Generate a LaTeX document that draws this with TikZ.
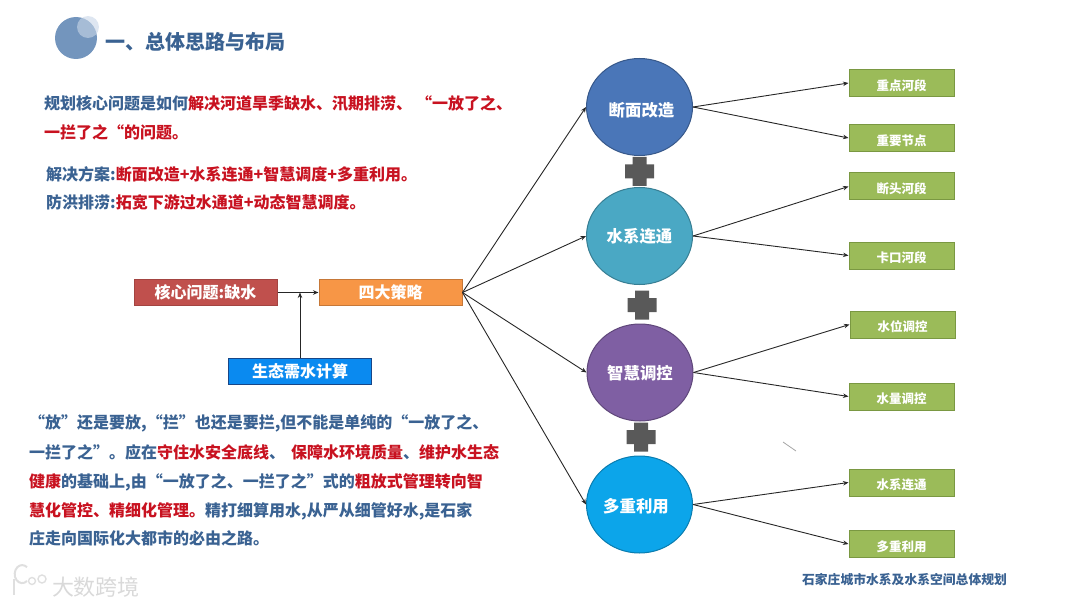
\documentclass[tikz,border=0pt]{standalone}
\usepackage{fontspec}
\setmainfont{Noto Sans CJK SC}
\usepackage{xcolor}
\usetikzlibrary{shapes.geometric,arrows.meta,positioning}
\definecolor{planBlue}{RGB}{58,98,146}
\definecolor{alertRed}{RGB}{200,18,32}
\definecolor{leafGreen}{RGB}{155,187,89}
\definecolor{leafEdge}{RGB}{122,152,66}
\definecolor{plusGrey}{RGB}{89,89,89}
\definecolor{hubBlue}{RGB}{74,118,184}
\definecolor{hubTeal}{RGB}{74,168,196}
\definecolor{hubPurple}{RGB}{127,95,163}
\definecolor{hubSky}{RGB}{12,165,234}
\definecolor{coreRed}{RGB}{192,80,77}
\definecolor{mainOrange}{RGB}{247,150,70}
\definecolor{calcBlue}{RGB}{10,138,240}
\definecolor{calcEdge}{RGB}{24,70,135}
\definecolor{dotBig}{RGB}{115,149,189}
\definecolor{dotSmall}{RGB}{200,214,232}
\newcommand{\hot}[1]{\textcolor{alertRed}{#1}}
\tikzset{
  hub/.style={ellipse, draw=#1!75!black, fill=#1, line width=1pt,
    minimum width=106pt, minimum height=97pt, inner sep=0pt},
  hubtext/.style={text=white, inner sep=0pt, font=\fontsize{16.4}{16.4}\selectfont\bfseries},
  leaf/.style={draw=leafEdge, fill=leafGreen, line width=1pt,
    minimum width=105pt, minimum height=27pt, inner sep=0pt},
  leaftext/.style={text=white, inner sep=0pt, font=\fontsize{12.5}{12.5}\selectfont\bfseries},
  tag/.style 2 args={draw=#1, fill=#2, line width=1pt,
    minimum width=143pt, minimum height=26pt, inner sep=0pt, text=white,
    font=\fontsize{16}{16}\selectfont\bfseries},
  para/.style={anchor=west, inner sep=0pt, text=planBlue,
    font=\fontsize{16}{16}\selectfont\bfseries},
  link/.style={draw=black!85, line width=0.9pt, -{Stealth[length=5.5pt,width=4.5pt]}},
  plusmark/.pic={
    \fill[plusGrey] (-7,-14.5) -- (7,-14.5) -- (7,-7) -- (14.5,-7) -- (14.5,7)
      -- (7,7) -- (7,14.5) -- (-7,14.5) -- (-7,7) -- (-14.5,7) -- (-14.5,-7)
      -- (-7,-7) -- cycle;
  }
}
\begin{document}
\begin{tikzpicture}[x=1pt,y=-1pt]
  \useasboundingbox (0,0) rectangle (1080,607);
  % Title
  \fill[dotBig] (76,38) circle (21);
  \fill[dotSmall,opacity=0.6] (88,27) circle (11);
  \node[anchor=west, inner sep=0pt, text=planBlue, font=\fontsize{20}{20}\selectfont\bfseries]
    (title) at (105,42) {一、总体思路与布局};
  % Upper text
  \node[para] (top1) at (44,103) {规划核心问题是如何\hot{解决河道旱季缺水、汛期排涝、\kern4pt“一放了之、}};
  \node[para] (top2) at (44,132) {\hot{一拦了之“的问题。}};
  \node[para] (top3) at (46,174) {解决方案:\hot{断面改造+水系连通+智慧调度+多重利用。}};
  \node[para] (top4) at (46,202) {防洪排涝:\hot{拓宽下游过水通道+动态智慧调度。}};
  % Left chain
  \node[tag={coreRed!85!black}{coreRed}] (core) at (205.5,292.5) {核心问题:缺水};
  \node[tag={mainOrange!80!black}{mainOrange}] (main) at (390.5,292.5) {四大策略};
  \node[tag={calcEdge}{calcBlue}] (calc) at (300,371.5) {生态需水计算};
  \coordinate (join) at (calc.north |- core.east);
  \draw[link] (core.east) -- (main.west);
  \draw[link] (calc.north) -- (join);
  % Lower text
  \node[para] (low1) at (29,423) {“放”还是要放,“拦”也还是要拦,但不能是单纯的“一放了之、};
  \node[para] (low2) at (29,452) {一拦了之”。应在\hot{守住水安全底线}、\kern6pt\hot{保障水环境质量}、\hot{维护水生态}};
  \node[para] (low3) at (29,482) {\hot{健康}的基础上,由“一放了之、一拦了之”式的\hot{粗放式管理转向智}};
  \node[para] (low4) at (29,511) {\hot{慧化管控、精细化管理。}精打细算用水,从严从细管好水,是石家};
  \node[para] (low5) at (29,538) {庄走向国际化大都市的必由之路。};
  % Circles
  \node[hub=hubBlue, label={[hubtext,xshift=2pt,yshift=-3pt]center:断面改造}] (cut) at (639.5,107) {};
  \node[hub=hubTeal, label={[hubtext,yshift=-0.5pt]center:水系连通}] (net) at (639.5,236) {};
  \node[hub=hubPurple, label={[hubtext,yshift=-0.5pt]center:智慧调控}] (ctl) at (640,372.5) {};
  \node[hub=hubSky, label={[hubtext,xshift=-3.5pt,yshift=-2pt]center:多重利用}] (use) at (639.5,504.5) {};
  % Plus signs
  \pic at (639.5,171.5) {plusmark};
  \pic at (642,305) {plusmark};
  \pic at (641,437) {plusmark};
  % Green boxes
  \node[leaf, label={[leaftext,yshift=-2.5pt]center:重点河段}] (a1) at (901.5,83) {};
  \node[leaf, label={[leaftext,yshift=-2.5pt]center:重要节点}] (a2) at (901.5,138) {};
  \node[leaf, label={[leaftext,yshift=-2.5pt]center:断头河段}] (b1) at (901.5,186.5) {};
  \node[leaf, label={[leaftext,yshift=-2.5pt]center:卡口河段}] (b2) at (901.5,255.5) {};
  \node[leaf, label={[leaftext,yshift=-2pt]center:水位调控}] (c1) at (902.5,324.5) {};
  \node[leaf, label={[leaftext,yshift=-2.5pt]center:水量调控}] (c2) at (901.5,396.5) {};
  \node[leaf, label={[leaftext,yshift=-2.5pt]center:水系连通}] (d1) at (901.5,482.5) {};
  \node[leaf, label={[leaftext,yshift=-2.5pt]center:多重利用}] (d2) at (901.5,544) {};
  % Connectors
  \draw[link] (main.east) -- (cut.west);
  \draw[link] (main.east) -- (net.west);
  \draw[link] (main.east) -- (ctl.west);
  \draw[link] (main.east) -- (use.west);
  \draw[link] (cut.east) -- (a1.west);
  \draw[link] (cut.east) -- (a2.west);
  \draw[link] (net.east) -- (b1.west);
  \draw[link] (net.east) -- (b2.west);
  \draw[link] (ctl.east) -- (c1.west);
  \draw[link] (ctl.east) -- (c2.west);
  \draw[link] (use.east) -- (d1.west);
  \draw[link] (use.east) -- (d2.west);
  % Stray tick
  \draw[gray!70, line width=0.8pt] (783,442) -- (796,451);
  % Source and watermark
  \node[inner sep=0pt, text=planBlue, font=\fontsize{12.8}{12.8}\selectfont\bfseries]
    (src) at (904.5,580) {石家庄城市水系及水系空间总体规划};
  \node[inner sep=0pt, text=gray!30, font=\fontsize{22}{22}\selectfont]
    (mark) at (96,587) {大数跨境};
  \draw[gray!25, line width=2pt] (14,579) -- (14,595);
  \draw[gray!25, line width=2pt] (27,581) arc (50:310:7.5 and 9);
  \draw[gray!25, line width=1.4pt] (32,581) circle (3.5);
  \draw[gray!25, line width=1.4pt] (42,579) circle (4);
\end{tikzpicture}
\end{document}
